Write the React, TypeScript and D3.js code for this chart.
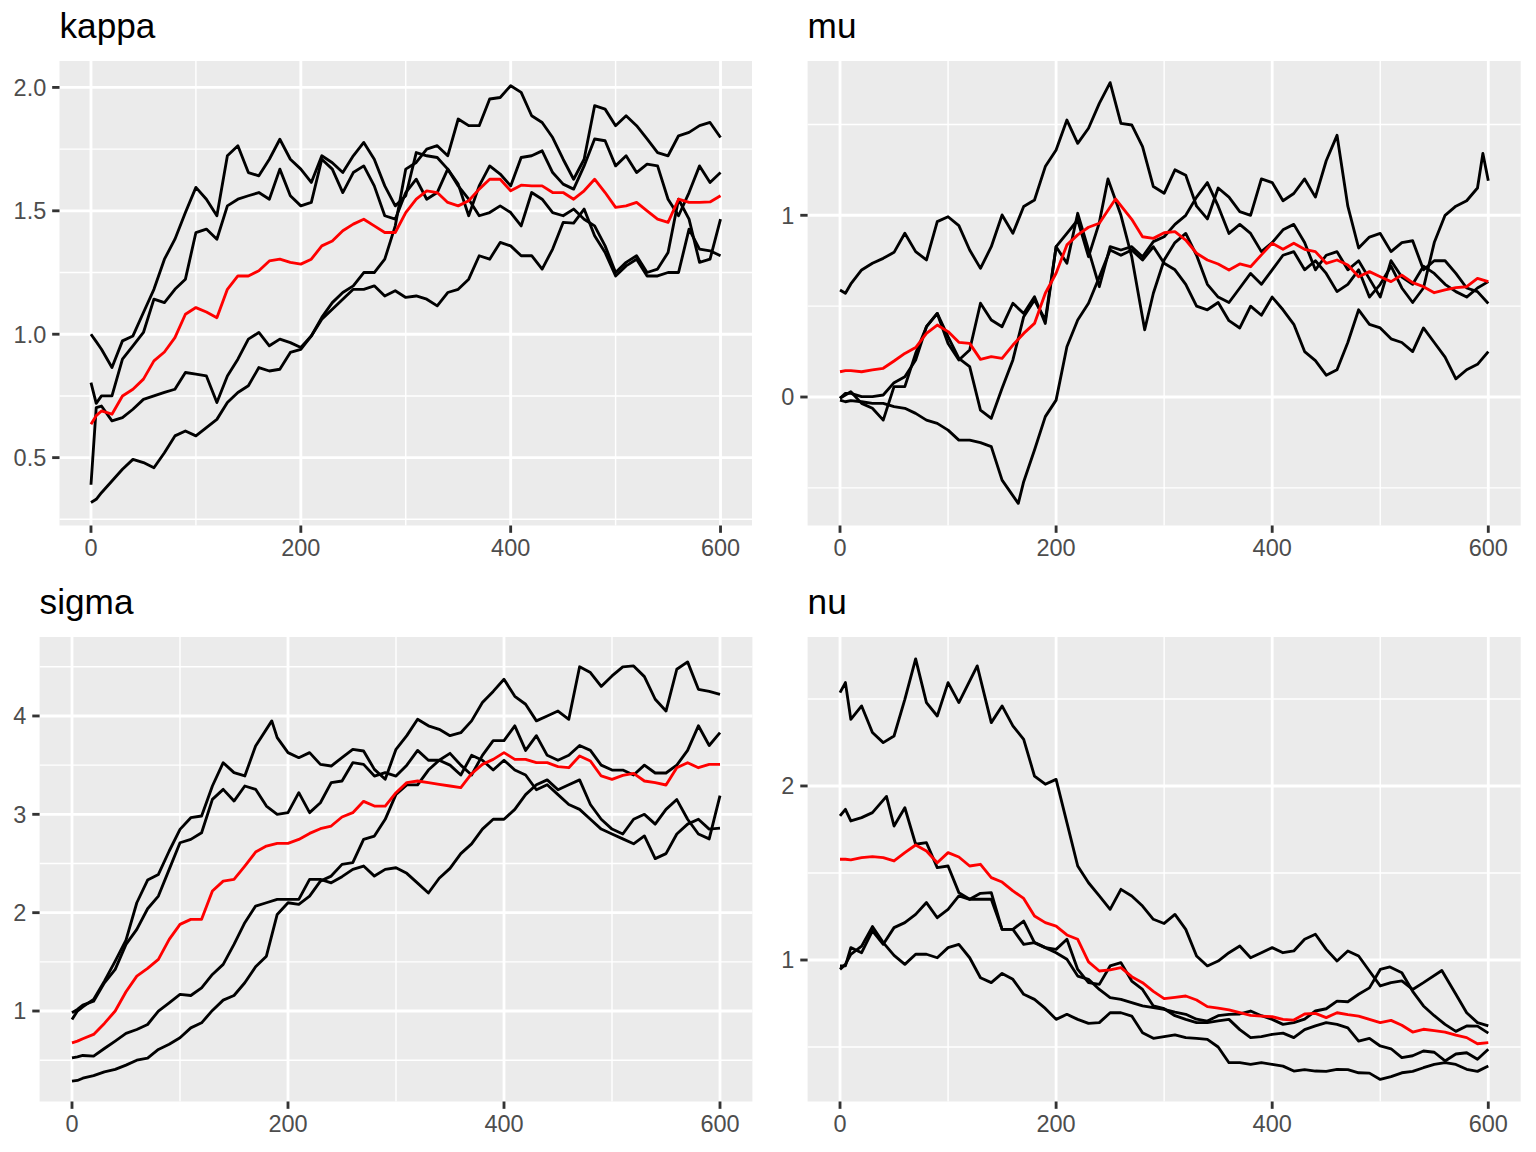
import React, { useEffect } from "react";
import * as d3 from "d3";

type Pt = [number, number];

// ---------- shared axis data ----------
const iterationRange: [number, number] = [0, 600];
const iterationTicks = [0, 200, 400, 600];
const iterationMinor = [100, 300, 500];

// ---------- kappa ----------
const kappaTicks = [0.5, 1.0, 1.5, 2.0];
const kappaTickLabels = ["0.5", "1.0", "1.5", "2.0"];
const kappaMinor = [0.25, 0.75, 1.25, 1.75];
const kappaLimits: [number, number] = [0.225, 2.107];
const kappaChain1: Pt[] = [[0,1.00],[5,0.97],[10,0.939],[20,0.865],[30,0.973],[40,0.993],[50,1.088],[60,1.182],[70,1.304],[80,1.385],[90,1.493],[100,1.595],[110,1.547],[120,1.48],[130,1.723],[140,1.764],[150,1.655],[160,1.642],[170,1.709],[180,1.79],[190,1.709],[200,1.669],[210,1.615],[220,1.723],[230,1.695],[240,1.655],[250,1.723],[260,1.777],[270,1.709],[280,1.601],[290,1.52],[300,1.561],[310,1.736],[320,1.723],[330,1.716],[340,1.669],[350,1.608],[360,1.48],[370,1.601],[380,1.682],[390,1.649],[400,1.601],[410,1.716],[420,1.723],[430,1.743],[440,1.655],[450,1.608],[460,1.588],[470,1.682],[480,1.791],[490,1.784],[500,1.682],[510,1.723],[520,1.655],[530,1.689],[540,1.682],[550,1.547],[560,1.48],[570,1.574],[580,1.682],[590,1.615],[600,1.655]];
const kappaChain2: Pt[] = [[0,0.804],[5,0.72],[10,0.75],[20,0.75],[30,0.899],[40,0.953],[50,1.007],[60,1.142],[70,1.128],[80,1.182],[90,1.223],[100,1.412],[110,1.426],[120,1.385],[130,1.52],[140,1.547],[150,1.561],[160,1.574],[170,1.547],[180,1.669],[190,1.561],[200,1.52],[210,1.534],[220,1.709],[230,1.669],[240,1.574],[250,1.655],[260,1.682],[270,1.601],[280,1.48],[290,1.466],[300,1.574],[310,1.628],[320,1.547],[330,1.574],[340,1.669],[350,1.601],[360,1.547],[370,1.48],[380,1.493],[390,1.52],[400,1.493],[410,1.439],[420,1.574],[430,1.547],[440,1.493],[450,1.48],[460,1.507],[470,1.466],[480,1.439],[490,1.358],[500,1.25],[510,1.291],[520,1.318],[530,1.25],[540,1.264],[550,1.331],[560,1.547],[570,1.466],[580,1.291],[590,1.304],[600,1.466]];
const kappaChain3: Pt[] = [[0,0.39],[5,0.703],[10,0.709],[20,0.649],[30,0.662],[40,0.696],[50,0.736],[60,0.75],[70,0.764],[80,0.777],[90,0.845],[100,0.838],[110,0.831],[120,0.723],[130,0.831],[140,0.899],[150,0.98],[160,1.007],[170,0.953],[180,0.98],[190,0.966],[200,0.946],[210,0.993],[220,1.068],[230,1.128],[240,1.169],[250,1.196],[260,1.25],[270,1.25],[280,1.304],[290,1.439],[300,1.669],[310,1.696],[320,1.75],[330,1.764],[340,1.723],[350,1.872],[360,1.845],[370,1.845],[380,1.953],[390,1.959],[400,2.007],[410,1.98],[420,1.885],[430,1.858],[440,1.797],[450,1.709],[460,1.628],[470,1.709],[480,1.926],[490,1.912],[500,1.845],[510,1.885],[520,1.845],[530,1.791],[540,1.736],[550,1.723],[560,1.804],[570,1.818],[580,1.845],[590,1.858],[600,1.797]];
const kappaChain4: Pt[] = [[0,0.318],[5,0.331],[10,0.358],[20,0.405],[30,0.453],[40,0.493],[50,0.48],[60,0.459],[70,0.52],[80,0.588],[90,0.608],[100,0.588],[110,0.622],[120,0.655],[130,0.723],[140,0.764],[150,0.791],[160,0.865],[170,0.851],[180,0.858],[190,0.926],[200,0.939],[210,0.993],[220,1.061],[230,1.101],[240,1.142],[250,1.182],[260,1.182],[270,1.196],[280,1.155],[290,1.176],[300,1.149],[310,1.155],[320,1.142],[330,1.115],[340,1.169],[350,1.182],[360,1.223],[370,1.318],[380,1.304],[390,1.372],[400,1.358],[410,1.318],[420,1.318],[430,1.264],[440,1.345],[450,1.453],[460,1.45],[470,1.507],[480,1.399],[490,1.331],[500,1.236],[510,1.277],[520,1.304],[530,1.236],[540,1.236],[550,1.25],[560,1.25],[570,1.426],[580,1.345],[590,1.338],[600,1.318]];
const kappaMean: Pt[] = [[0,0.635],[5,0.67],[10,0.689],[20,0.676],[30,0.75],[40,0.777],[50,0.818],[60,0.892],[70,0.928],[80,0.986],[90,1.081],[100,1.108],[110,1.09],[120,1.067],[130,1.182],[140,1.236],[150,1.236],[160,1.257],[170,1.297],[180,1.304],[190,1.291],[200,1.284],[210,1.304],[220,1.358],[230,1.378],[240,1.419],[250,1.446],[260,1.466],[270,1.439],[280,1.412],[290,1.412],[300,1.493],[310,1.547],[320,1.581],[330,1.574],[340,1.534],[350,1.52],[360,1.541],[370,1.588],[380,1.628],[390,1.628],[400,1.581],[410,1.604],[420,1.601],[430,1.601],[440,1.574],[450,1.574],[460,1.547],[470,1.581],[480,1.628],[490,1.574],[500,1.514],[510,1.52],[520,1.534],[530,1.5],[540,1.466],[550,1.453],[560,1.547],[570,1.534],[580,1.534],[590,1.536],[600,1.561]];

// ---------- mu ----------
const muTicks = [0, 1];
const muTickLabels = ["0", "1"];
const muMinor = [-0.5, 0.5, 1.5];
const muLimits: [number, number] = [-0.707, 1.849];
const muChain1: Pt[] = [[0,0.589],[5,0.571],[10,0.622],[20,0.699],[30,0.736],[40,0.763],[50,0.796],[60,0.901],[70,0.80],[80,0.754],[90,0.965],[100,0.992],[110,0.943],[120,0.809],[130,0.708],[140,0.827],[150,1.002],[160,0.901],[170,1.048],[180,1.084],[190,1.268],[200,1.359],[210,1.524],[220,1.396],[230,1.479],[240,1.616],[250,1.73],[260,1.506],[270,1.497],[280,1.378],[290,1.158],[300,1.121],[310,1.25],[320,1.22],[330,1.05],[340,0.98],[350,1.15],[360,1.10],[370,1.02],[380,1.00],[390,1.20],[400,1.18],[410,1.08],[420,1.12],[430,1.20],[440,1.10],[450,1.30],[460,1.44],[470,1.05],[480,0.82],[490,0.88],[500,0.90],[510,0.80],[520,0.85],[530,0.86],[540,0.70],[550,0.75],[560,0.75],[570,0.68],[580,0.60],[590,0.58],[600,0.515]];
const muChain2: Pt[] = [[0,-0.007],[5,0.02],[10,0.02],[20,0.002],[30,0.002],[40,0.011],[50,0.079],[60,0.112],[70,0.204],[80,0.387],[90,0.46],[100,0.332],[110,0.213],[120,0.167],[130,-0.072],[140,-0.117],[150,0.048],[160,0.204],[170,0.442],[180,0.534],[190,0.424],[200,0.827],[210,0.901],[220,0.974],[230,0.772],[240,0.96],[248,1.20],[260,1.0],[270,0.772],[282,0.37],[290,0.571],[300,0.754],[310,0.85],[320,0.90],[330,0.78],[340,0.62],[350,0.55],[360,0.52],[370,0.60],[380,0.68],[390,0.62],[400,0.70],[410,0.78],[420,0.80],[430,0.70],[440,0.75],[450,0.68],[460,0.58],[470,0.62],[480,0.70],[490,0.55],[500,0.62],[510,0.72],[520,0.60],[530,0.52],[540,0.60],[550,0.85],[560,1.00],[570,1.05],[580,1.08],[590,1.15],[595,1.34],[600,1.19]];
const muChain3: Pt[] = [[0,-0.007],[5,0.011],[10,0.029],[20,-0.035],[30,-0.062],[40,-0.127],[50,0.057],[60,0.057],[70,0.24],[80,0.387],[90,0.46],[100,0.295],[110,0.204],[120,0.259],[130,0.516],[140,0.424],[150,0.387],[160,0.516],[170,0.46],[180,0.552],[190,0.405],[200,0.827],[210,0.736],[220,1.011],[230,0.809],[240,0.607],[250,0.827],[260,0.809],[270,0.827],[280,0.772],[290,0.855],[300,0.882],[310,0.95],[320,1.00],[330,1.10],[340,1.18],[350,1.05],[360,0.90],[370,0.95],[380,0.90],[390,0.80],[400,0.85],[410,0.92],[420,0.95],[430,0.85],[440,0.70],[450,0.78],[460,0.80],[470,0.70],[480,0.75],[490,0.65],[500,0.55],[510,0.75],[520,0.66],[530,0.62],[540,0.72],[550,0.68],[560,0.62],[570,0.58],[580,0.55],[590,0.60],[600,0.635]];
const muChain4: Pt[] = [[0,-0.017],[5,-0.026],[10,-0.02],[20,-0.026],[30,-0.035],[40,-0.035],[50,-0.053],[60,-0.062],[70,-0.09],[80,-0.127],[90,-0.145],[100,-0.182],[110,-0.237],[120,-0.237],[130,-0.251],[140,-0.273],[150,-0.457],[165,-0.585],[170,-0.466],[180,-0.292],[190,-0.108],[200,-0.017],[210,0.277],[220,0.424],[230,0.516],[240,0.66],[250,0.809],[260,0.78],[270,0.809],[280,0.754],[290,0.827],[300,0.736],[310,0.70],[320,0.62],[330,0.50],[340,0.48],[350,0.52],[360,0.42],[370,0.38],[380,0.50],[390,0.45],[400,0.55],[410,0.48],[420,0.40],[430,0.25],[440,0.20],[450,0.12],[460,0.15],[470,0.30],[480,0.48],[490,0.40],[500,0.38],[510,0.32],[520,0.30],[530,0.25],[540,0.38],[550,0.30],[560,0.22],[570,0.10],[580,0.15],[590,0.18],[600,0.25]];
const muMean: Pt[] = [[0,0.139],[5,0.145],[10,0.145],[20,0.139],[30,0.149],[40,0.158],[50,0.198],[60,0.240],[70,0.272],[80,0.350],[90,0.396],[100,0.360],[110,0.301],[120,0.295],[130,0.207],[140,0.222],[150,0.213],[160,0.286],[170,0.35],[180,0.405],[190,0.571],[200,0.681],[210,0.837],[220,0.892],[230,0.934],[240,0.956],[255,1.09],[270,0.978],[280,0.882],[290,0.873],[300,0.904],[310,0.91],[320,0.864],[330,0.791],[340,0.754],[350,0.732],[360,0.699],[370,0.732],[380,0.717],[390,0.782],[400,0.846],[410,0.813],[420,0.846],[430,0.813],[440,0.80],[450,0.736],[460,0.754],[470,0.726],[480,0.662],[490,0.69],[500,0.662],[510,0.635],[520,0.671],[530,0.629],[540,0.607],[550,0.574],[560,0.589],[570,0.602],[580,0.607],[590,0.653],[600,0.635]];

// ---------- sigma ----------
const sigmaTicks = [1, 2, 3, 4];
const sigmaTickLabels = ["1", "2", "3", "4"];
const sigmaMinor = [0.5, 1.5, 2.5, 3.5, 4.5];
const sigmaLimits: [number, number] = [0.08, 4.803];
const sigmaChain1: Pt[] = [[0,0.914],[5,1.0],[10,1.043],[20,1.118],[30,1.304],[40,1.508],[50,1.721],[60,2.101],[70,2.332],[80,2.389],[90,2.627],[100,2.847],[110,2.966],[120,2.983],[130,3.288],[140,3.525],[150,3.424],[160,3.390],[170,3.695],[185,3.95],[190,3.78],[200,3.627],[210,3.576],[220,3.627],[230,3.508],[240,3.491],[250,3.576],[260,3.661],[270,3.644],[280,3.457],[290,3.356],[300,3.661],[310,3.80],[320,3.966],[330,3.90],[340,3.864],[350,3.80],[360,3.83],[370,3.95],[380,4.136],[390,4.25],[400,4.373],[410,4.20],[420,4.119],[430,3.95],[440,4.0],[450,4.05],[460,3.966],[470,4.50],[480,4.441],[490,4.30],[500,4.407],[510,4.50],[520,4.509],[530,4.40],[540,4.17],[550,4.05],[560,4.475],[570,4.55],[580,4.271],[590,4.25],[600,4.22]];
const sigmaChain2: Pt[] = [[0,0.982],[5,1.016],[10,1.06],[20,1.10],[30,1.287],[40,1.423],[50,1.677],[60,1.830],[70,2.04],[80,2.169],[90,2.44],[100,2.711],[110,2.745],[120,2.813],[130,3.152],[140,3.254],[150,3.135],[160,3.288],[170,3.254],[180,3.084],[190,3.0],[200,3.017],[210,3.22],[220,3.017],[230,3.118],[240,3.322],[250,3.339],[260,3.525],[270,3.508],[280,3.389],[290,3.424],[300,3.389],[310,3.50],[320,3.65],[330,3.55],[340,3.55],[350,3.62],[360,3.50],[370,3.40],[380,3.60],[390,3.75],[400,3.75],[410,3.90],[420,3.65],[430,3.80],[440,3.60],[450,3.55],[460,3.60],[470,3.70],[480,3.65],[490,3.50],[500,3.45],[510,3.45],[520,3.40],[530,3.50],[540,3.42],[550,3.42],[560,3.50],[570,3.65],[580,3.90],[590,3.70],[600,3.83]];
const sigmaChain3: Pt[] = [[0,0.524],[5,0.534],[10,0.548],[20,0.541],[30,0.619],[40,0.694],[50,0.772],[60,0.812],[70,0.863],[80,1.0],[90,1.084],[100,1.169],[110,1.158],[120,1.236],[130,1.372],[140,1.474],[150,1.677],[160,1.898],[170,2.067],[180,2.101],[190,2.135],[200,2.135],[210,2.135],[220,2.338],[230,2.338],[240,2.304],[250,2.366],[260,2.44],[270,2.474],[280,2.372],[290,2.44],[300,2.457],[310,2.40],[320,2.30],[330,2.20],[340,2.35],[350,2.45],[360,2.60],[370,2.70],[380,2.85],[390,2.95],[400,2.95],[410,3.05],[420,3.20],[430,3.30],[440,3.35],[450,3.25],[460,3.30],[470,3.35],[480,3.10],[490,2.95],[500,2.85],[510,2.80],[520,2.95],[530,3.00],[540,2.90],[550,3.05],[560,3.15],[570,2.95],[580,2.80],[590,2.75],[600,3.19]];
const sigmaChain4: Pt[] = [[0,0.287],[5,0.294],[10,0.317],[20,0.344],[30,0.382],[40,0.406],[50,0.45],[60,0.50],[70,0.521],[80,0.609],[90,0.663],[100,0.728],[110,0.829],[120,0.88],[130,1.006],[140,1.111],[150,1.158],[160,1.287],[170,1.45],[180,1.558],[190,1.982],[200,2.101],[210,2.084],[220,2.169],[230,2.321],[240,2.372],[250,2.491],[260,2.508],[270,2.745],[280,2.779],[290,2.949],[300,3.203],[310,3.30],[320,3.30],[330,3.45],[340,3.55],[350,3.50],[360,3.40],[370,3.60],[380,3.55],[390,3.45],[400,3.55],[410,3.45],[420,3.40],[430,3.25],[440,3.30],[450,3.20],[460,3.10],[470,3.05],[480,2.95],[490,2.85],[500,2.80],[510,2.75],[520,2.70],[530,2.78],[540,2.55],[550,2.60],[560,2.80],[570,2.90],[580,2.95],[590,2.85],[600,2.86]];
const sigmaMean: Pt[] = [[0,0.677],[5,0.694],[10,0.718],[20,0.762],[30,0.874],[40,1.0],[50,1.196],[60,1.355],[70,1.433],[80,1.525],[90,1.728],[100,1.881],[110,1.932],[120,1.932],[130,2.22],[140,2.321],[150,2.338],[160,2.474],[170,2.616],[180,2.677],[190,2.705],[200,2.705],[210,2.745],[220,2.806],[230,2.854],[240,2.881],[250,2.973],[260,3.017],[270,3.132],[280,3.084],[290,3.084],[300,3.22],[310,3.322],[320,3.339],[330,3.322],[340,3.305],[350,3.288],[360,3.271],[370,3.413],[380,3.508],[390,3.559],[400,3.627],[410,3.559],[420,3.559],[430,3.525],[440,3.525],[450,3.485],[460,3.474],[470,3.593],[480,3.542],[490,3.39],[500,3.356],[510,3.396],[520,3.417],[530,3.339],[540,3.322],[550,3.298],[560,3.474],[570,3.525],[580,3.474],[590,3.508],[600,3.508]];

// ---------- nu ----------
const nuTicks = [1, 2];
const nuTickLabels = ["1", "2"];
const nuMinor = [0.5, 1.5, 2.5];
const nuLimits: [number, number] = [0.187, 2.856];
const nuChain1: Pt[] = [[0,2.536],[5,2.594],[10,2.383],[20,2.46],[30,2.307],[40,2.249],[50,2.287],[60,2.498],[70,2.73],[80,2.479],[90,2.402],[100,2.594],[110,2.479],[127,2.69],[140,2.364],[150,2.46],[160,2.345],[170,2.268],[180,2.057],[190,2.01],[200,2.038],[210,1.789],[220,1.54],[230,1.444],[240,1.368],[250,1.291],[260,1.406],[270,1.368],[280,1.31],[290,1.234],[300,1.21],[310,1.262],[320,1.176],[330,1.023],[340,0.966],[350,0.994],[360,1.042],[370,1.08],[380,1.013],[390,1.042],[400,1.071],[410,1.042],[420,1.052],[430,1.119],[440,1.148],[450,1.061],[460,0.994],[470,1.052],[480,1.023],[490,0.937],[500,0.851],[510,0.87],[520,0.88],[530,0.831],[540,0.870],[557,0.94],[570,0.803],[580,0.697],[590,0.64],[600,0.621]];
const nuChain2: Pt[] = [[0,1.828],[5,1.866],[10,1.799],[20,1.818],[30,1.847],[43,1.94],[50,1.77],[60,1.875],[70,1.665],[80,1.674],[90,1.531],[100,1.54],[110,1.387],[120,1.349],[130,1.349],[140,1.349],[150,1.176],[160,1.176],[170,1.09],[180,1.10],[190,1.071],[200,1.042],[210,1.004],[220,0.908],[230,0.889],[240,0.831],[250,0.784],[260,0.774],[270,0.755],[280,0.736],[290,0.726],[300,0.716],[310,0.70],[320,0.688],[330,0.66],[340,0.649],[350,0.68],[360,0.688],[370,0.69],[380,0.707],[390,0.68],[400,0.659],[410,0.63],[420,0.64],[430,0.66],[440,0.707],[450,0.72],[460,0.764],[470,0.76],[480,0.803],[490,0.84],[500,0.946],[509,0.96],[520,0.927],[530,0.82],[540,0.736],[550,0.68],[560,0.63],[570,0.59],[580,0.621],[590,0.62],[600,0.58]];
const nuChain3: Pt[] = [[0,0.946],[5,0.975],[10,1.033],[20,1.08],[30,1.192],[40,1.10],[50,1.027],[60,0.975],[70,1.033],[80,1.033],[90,1.013],[100,1.071],[110,1.09],[120,1.013],[130,0.898],[140,0.870],[150,0.923],[160,0.889],[170,0.803],[180,0.774],[190,0.722],[200,0.659],[210,0.688],[220,0.659],[230,0.636],[240,0.640],[250,0.697],[260,0.697],[270,0.678],[280,0.582],[290,0.55],[300,0.56],[310,0.57],[320,0.554],[330,0.55],[340,0.544],[350,0.50],[360,0.41],[370,0.41],[380,0.40],[390,0.41],[400,0.40],[410,0.39],[420,0.362],[430,0.37],[440,0.362],[450,0.36],[460,0.372],[470,0.37],[480,0.352],[490,0.35],[500,0.314],[510,0.33],[520,0.352],[530,0.36],[540,0.381],[550,0.40],[560,0.41],[570,0.40],[580,0.372],[590,0.36],[600,0.391]];
const nuChain4: Pt[] = [[0,0.966],[5,0.966],[10,1.071],[20,1.042],[30,1.167],[40,1.09],[50,1.186],[60,1.215],[70,1.262],[80,1.33],[90,1.243],[100,1.291],[110,1.368],[120,1.349],[130,1.383],[140,1.387],[150,1.176],[160,1.176],[170,1.224],[180,1.10],[190,1.071],[200,1.061],[210,1.119],[220,0.946],[230,0.87],[240,0.860],[250,0.966],[260,0.985],[270,0.879],[280,0.831],[290,0.736],[300,0.72],[310,0.68],[320,0.659],[330,0.64],[340,0.64],[350,0.65],[360,0.659],[370,0.60],[380,0.554],[390,0.56],[400,0.573],[410,0.58],[420,0.554],[430,0.60],[440,0.621],[450,0.64],[460,0.63],[470,0.61],[480,0.534],[490,0.55],[500,0.506],[510,0.49],[520,0.439],[530,0.45],[540,0.477],[550,0.47],[560,0.42],[570,0.46],[580,0.467],[590,0.43],[600,0.487]];
const nuMean: Pt[] = [[0,1.579],[5,1.579],[10,1.575],[20,1.588],[30,1.594],[40,1.588],[50,1.569],[60,1.617],[70,1.661],[80,1.626],[90,1.559],[100,1.617],[110,1.592],[120,1.54],[130,1.55],[140,1.473],[150,1.448],[160,1.397],[170,1.354],[180,1.253],[190,1.215],[200,1.195],[210,1.144],[220,1.119],[230,0.989],[240,0.937],[250,0.943],[260,0.956],[270,0.904],[280,0.870],[290,0.82],[300,0.778],[310,0.785],[320,0.793],[330,0.77],[340,0.732],[350,0.724],[360,0.713],[370,0.697],[380,0.682],[390,0.678],[400,0.674],[410,0.659],[420,0.655],[430,0.69],[440,0.693],[450,0.669],[460,0.697],[470,0.686],[480,0.678],[490,0.659],[500,0.640],[510,0.653],[520,0.625],[530,0.586],[540,0.602],[550,0.594],[560,0.586],[570,0.569],[580,0.554],[590,0.519],[600,0.525]];

// ---------- panel definitions ----------
interface PanelCfg {
  title: string;
  chains: Pt[][];
  mean: Pt[];
  yTicks: number[];
  yTickLabels: string[];
  yMinor: number[];
  yLimits: [number, number];
}

const panelConfigs: PanelCfg[] = [
  { title: "kappa", chains: [kappaChain1, kappaChain2, kappaChain3, kappaChain4], mean: kappaMean, yTicks: kappaTicks, yTickLabels: kappaTickLabels, yMinor: kappaMinor, yLimits: kappaLimits },
  { title: "mu", chains: [muChain1, muChain2, muChain3, muChain4], mean: muMean, yTicks: muTicks, yTickLabels: muTickLabels, yMinor: muMinor, yLimits: muLimits },
  { title: "sigma", chains: [sigmaChain1, sigmaChain2, sigmaChain3, sigmaChain4], mean: sigmaMean, yTicks: sigmaTicks, yTickLabels: sigmaTickLabels, yMinor: sigmaMinor, yLimits: sigmaLimits },
  { title: "nu", chains: [nuChain1, nuChain2, nuChain3, nuChain4], mean: nuMean, yTicks: nuTicks, yTickLabels: nuTickLabels, yMinor: nuMinor, yLimits: nuLimits },
];

const layouts = [
  { left: 59.5, right: 752, top: 61, bottom: 525.5, titleY: 38 },
  { left: 807.6, right: 1520.7, top: 61, bottom: 525.5, titleY: 38 },
  { left: 39.6, right: 752.4, top: 637, bottom: 1101.5, titleY: 614 },
  { left: 807.6, right: 1520.7, top: 637, bottom: 1101.5, titleY: 614 },
];

const FONT = "'Liberation Sans', Arial, Helvetica, sans-serif";
const LW = 2.85;
const TICK_LEN = 7.33;
const TICK_FONT = 23.5;
const DIGIT_H = 0.716 * TICK_FONT;

function Panel({ cfg, lay }: { cfg: PanelCfg; lay: (typeof layouts)[number] }) {
  const span = iterationRange[1] - iterationRange[0];
  const x = d3
    .scaleLinear()
    .domain([iterationRange[0] - 0.05 * span, iterationRange[1] + 0.05 * span])
    .range([lay.left, lay.right]);
  const y = d3.scaleLinear().domain(cfg.yLimits).range([lay.bottom, lay.top]);
  const line = d3
    .line<Pt>()
    .x((d) => x(d[0]))
    .y((d) => y(d[1]));
  const w = lay.right - lay.left;
  const h = lay.bottom - lay.top;
  return (
    <g>
      <rect x={lay.left} y={lay.top} width={w} height={h} fill="#EBEBEB" />
      {cfg.yMinor.map((v) => (
        <line key={"ym" + v} x1={lay.left} x2={lay.right} y1={y(v)} y2={y(v)} stroke="#FFFFFF" strokeWidth={LW / 2} />
      ))}
      {iterationMinor.map((v) => (
        <line key={"xm" + v} x1={x(v)} x2={x(v)} y1={lay.top} y2={lay.bottom} stroke="#FFFFFF" strokeWidth={LW / 2} />
      ))}
      {cfg.yTicks.map((v) => (
        <line key={"yM" + v} x1={lay.left} x2={lay.right} y1={y(v)} y2={y(v)} stroke="#FFFFFF" strokeWidth={LW} />
      ))}
      {iterationTicks.map((v) => (
        <line key={"xM" + v} x1={x(v)} x2={x(v)} y1={lay.top} y2={lay.bottom} stroke="#FFFFFF" strokeWidth={LW} />
      ))}
      {cfg.chains.map((c, i) => (
        <path key={"c" + i} d={line(c) || ""} fill="none" stroke="#000000" strokeWidth={LW} strokeLinejoin="round" />
      ))}
      <path d={line(cfg.mean) || ""} fill="none" stroke="#FF0000" strokeWidth={LW} strokeLinejoin="round" />
      {cfg.yTicks.map((v, i) => (
        <g key={"yt" + v}>
          <line x1={lay.left - TICK_LEN} x2={lay.left} y1={y(v)} y2={y(v)} stroke="#333333" strokeWidth={LW} />
          <text x={lay.left - TICK_LEN - 5.9} y={y(v) + DIGIT_H / 2} textAnchor="end" fontFamily={FONT} fontSize={TICK_FONT} fill="#4D4D4D">
            {cfg.yTickLabels[i]}
          </text>
        </g>
      ))}
      {iterationTicks.map((v) => (
        <g key={"xt" + v}>
          <line x1={x(v)} x2={x(v)} y1={lay.bottom} y2={lay.bottom + TICK_LEN} stroke="#333333" strokeWidth={LW} />
          <text x={x(v)} y={lay.bottom + TICK_LEN + 5.9 + DIGIT_H} textAnchor="middle" fontFamily={FONT} fontSize={TICK_FONT} fill="#4D4D4D">
            {String(v)}
          </text>
        </g>
      ))}
      <text x={lay.left} y={lay.titleY} fontFamily={FONT} fontSize={35.2} fill="#000000">
        {cfg.title}
      </text>
    </g>
  );
}

export default function App() {
  useEffect(() => {
    document.body.style.margin = "0";
  }, []);
  return (
    <svg
      width={1536}
      height={1152}
      viewBox="0 0 1536 1152"
      style={{ position: "absolute", left: 0, top: 0, background: "#FFFFFF" }}
    >
      <rect x={0} y={0} width={1536} height={1152} fill="#FFFFFF" />
      {panelConfigs.map((cfg, i) => (
        <Panel key={cfg.title} cfg={cfg} lay={layouts[i]} />
      ))}
    </svg>
  );
}
